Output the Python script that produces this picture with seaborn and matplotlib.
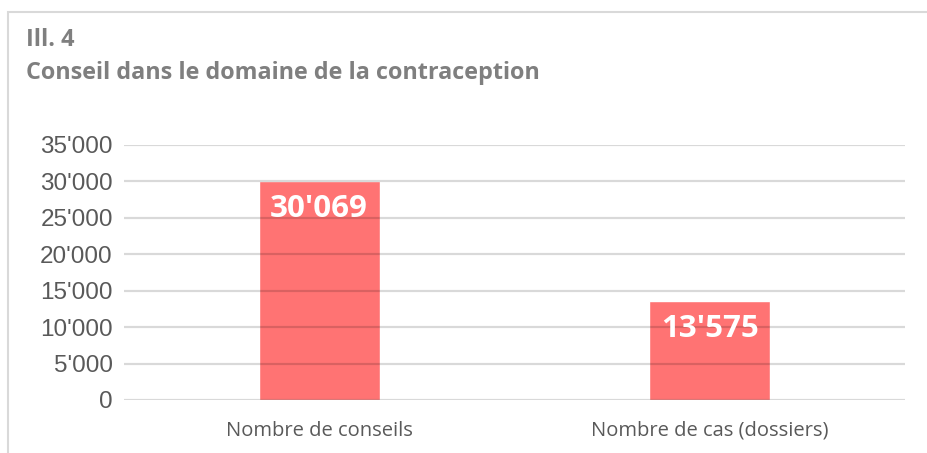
import matplotlib
matplotlib.use("Agg")
import matplotlib.pyplot as plt
import seaborn as sns
import pandas as pd
from matplotlib.patches import Rectangle
from matplotlib.ticker import FuncFormatter

categories = ["Nombre de conseils", "Nombre de cas (dossiers)"]
values = [30069, 13575]
y_ticks = [0, 5000, 10000, 15000, 20000, 25000, 30000, 35000]


def swiss(v):
    return f"{int(v):,}".replace(",", "'")


df = pd.DataFrame({"cat": categories, "val": values})

sns.set_theme(style="white")
plt.rcParams["font.family"] = ["Liberation Sans", "DejaVu Sans"]

fig = plt.figure(figsize=(9.28, 4.53), dpi=100)
ax = fig.add_axes([0.1336, 0.117, 0.975 - 0.1336, 0.563])

sns.barplot(data=df, x="cat", y="val", color="#FF7373", width=0.31,
            saturation=1, ax=ax, zorder=1)

ax.set_ylim(0, 35000)
ax.set_yticks(y_ticks)
ax.yaxis.set_major_formatter(FuncFormatter(lambda v, p: swiss(v)))
ax.grid(axis="y", color="black", alpha=0.15, linewidth=1.6, zorder=3)
ax.set_axisbelow(False)
for s in ax.spines.values():
    s.set_visible(False)
ax.set_xlabel("")
ax.set_ylabel("")
ax.tick_params(axis="y", labelsize=17.5, colors="#595959", pad=8, length=0)
ax.tick_params(axis="x", labelsize=14.5, colors="#595959", pad=15, length=0)
for lab in ax.get_xticklabels():
    lab.set_fontfamily(["Open Sans", "DejaVu Sans"])

for bar, v in zip(ax.patches, values):
    ax.annotate(swiss(v), (bar.get_x() + bar.get_width() / 2, bar.get_height()),
                xytext=(0, -20), textcoords="offset points", ha="center", va="center",
                color="white", fontsize=22.5, fontweight="bold",
                fontfamily=["Open Sans", "DejaVu Sans"], zorder=5)

fig.text(26 / 928, 1 - 40 / 453, "Ill. 4", fontsize=16.8, fontweight="bold",
         color="#7F7F7F", va="center", fontfamily=["Open Sans", "DejaVu Sans"])
fig.text(26 / 928, 1 - 73 / 453, "Conseil dans le domaine de la contraception",
         fontsize=16.8, fontweight="bold", color="#7F7F7F", va="center",
         fontfamily=["Open Sans", "DejaVu Sans"])

fig.add_artist(Rectangle((8 / 928, -0.1), 1.0, 1 - 12 / 453 + 0.1,
                         transform=fig.transFigure, fill=False,
                         edgecolor="#D9D9D9", linewidth=1.5))

fig.savefig("out.png", dpi=100)
